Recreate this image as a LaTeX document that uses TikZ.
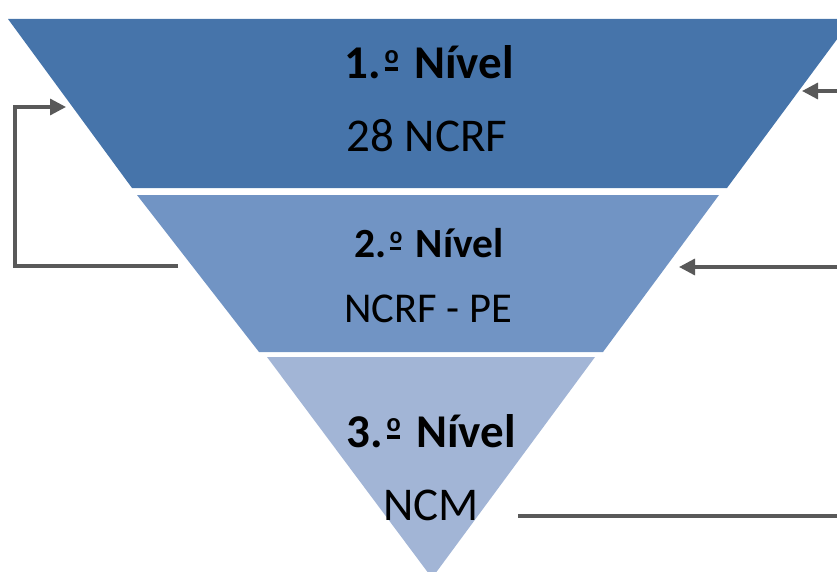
\documentclass[tikz,border=0pt]{standalone}
\usepackage{fontspec}
\setmainfont{Carlito}
\usepackage{graphicx}
\usepackage{tikz}
\usetikzlibrary{arrows.meta}

\definecolor{nivelA}{RGB}{70,116,170}
\definecolor{nivelB}{RGB}{113,148,196}
\definecolor{nivelC}{RGB}{162,181,214}
\definecolor{setacor}{RGB}{89,89,89}

% ordinal sublinhado
\newcommand\ordo{\kern0.08em\raisebox{0.18em}{\rlap{\rule{0.28em}{0.07em}}}\raisebox{0.32em}{\scalebox{0.56}{o}}\kern0.1em}

\begin{document}
\begin{tikzpicture}[x=1pt,y=-1pt,
	titulo/.style={anchor=base,inner sep=0pt,font=\fontsize{47}{56}\selectfont\bfseries},
	texto/.style={anchor=base,inner sep=0pt,font=\fontsize{47}{56}\selectfont},
	tituloB/.style={titulo,font=\fontsize{41.5}{50}\selectfont\bfseries},
	textoB/.style={texto,font=\fontsize{42.5}{50}\selectfont},
	seta/.style={draw=setacor,line width=3.3pt,line join=miter,-{Triangle[length=16pt,width=16pt]}},
	linha/.style={draw=setacor,line width=3.3pt}]
	\useasboundingbox (0,0) rectangle (837,572);
	
	% faixas da piramide
	\begin{scope}
		\clip (0,0) rectangle (837,572);
		\fill[nivelA] (8,19) -- (852,19) -- (727,188) -- (132,188) -- cycle;
		\fill[nivelB] (137,195) -- (719,195) -- (603,352) -- (259,352) -- cycle;
		\fill[nivelC] (267,357) -- (595,357) -- (432,578) -- cycle;
	\end{scope}
	
	% textos
	\node[titulo] (n1) at (429,79) {1.\ordo{} Nível};
	\node[texto] (t1) at (427,152) {28 NCRF};
	\node[tituloB] (n2) at (429,257) {2.\ordo{} Nível};
	\node[textoB] (t2) at (428,322) {NCRF - PE};
	\node[titulo] (n3) at (431,447) {3.\ordo{} Nível};
	\node[texto] (t3) at (431,520) {NCM};
	
	% ligacoes
	\coordinate (esqA) at (178,266);
	\coordinate (esqB) at (15,107);
	\coordinate (esqC) at (66,107);
	\draw[seta] (esqA) -| (esqB) -- (esqC);
	
	\coordinate (dirA) at (837,91);
	\coordinate (dirB) at (802,91);
	\draw[seta] (dirA) -- (dirB);
	
	\coordinate (dirC) at (837,267);
	\coordinate (dirD) at (679,267);
	\draw[seta] (dirC) -- (dirD);
	
	\coordinate (baixoA) at (518,516);
	\coordinate (baixoB) at (837,516);
	\draw[linha] (baixoA) -- (baixoB);
\end{tikzpicture}
\end{document}
